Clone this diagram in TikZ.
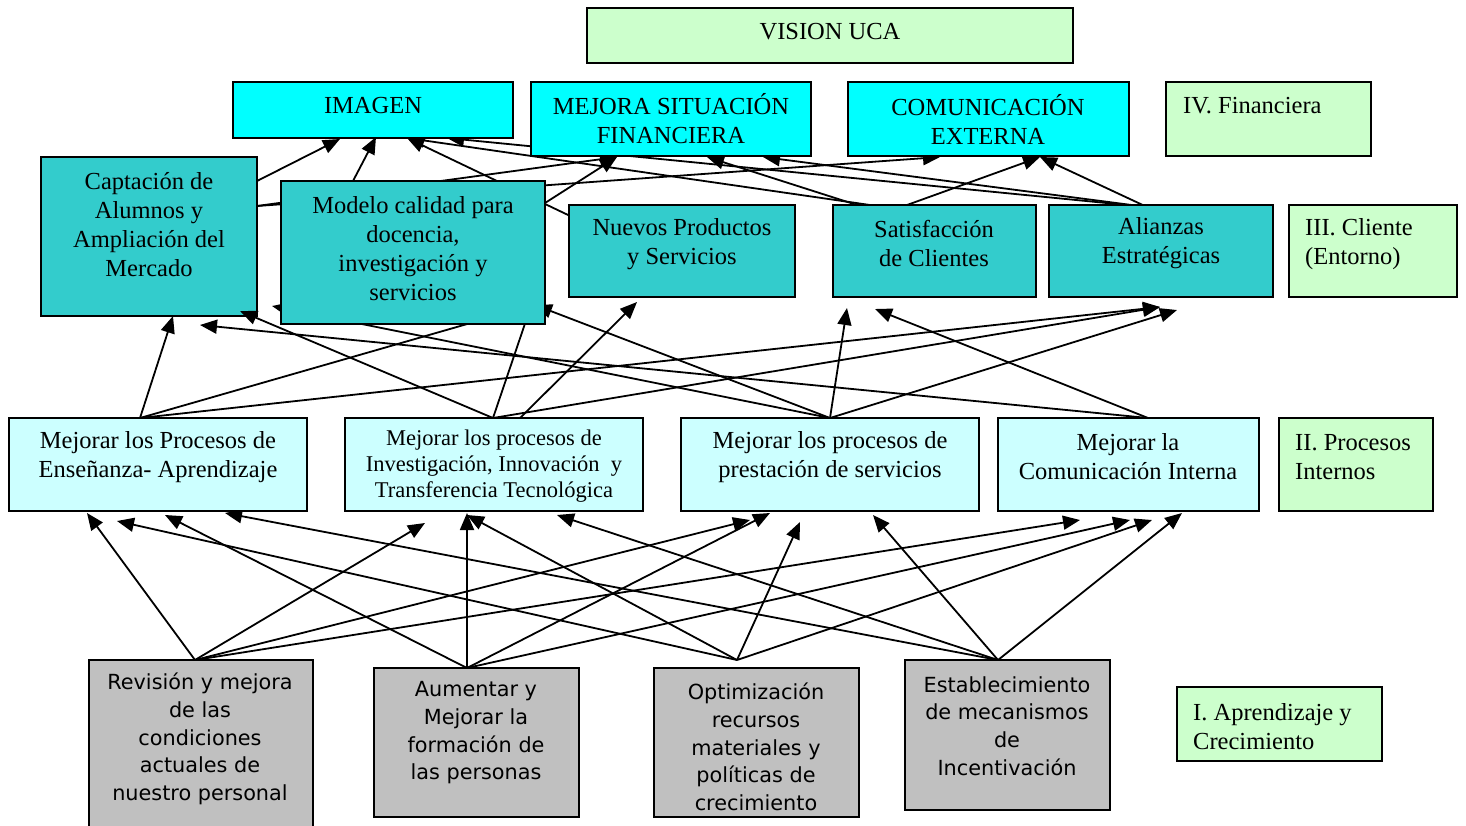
\documentclass[tikz,border=0pt]{standalone}
\usepackage{fontspec}
\setmainfont{Liberation Serif}
\newfontfamily\sansf{DejaVu Sans}
\usetikzlibrary{arrows.meta,calc}
\definecolor{cyanT}{HTML}{00FFFF}
\definecolor{tealB}{HTML}{33CCCC}
\definecolor{lcyan}{HTML}{CCFFFF}
\definecolor{lgreen}{HTML}{CCFFCC}
\definecolor{grayB}{HTML}{C0C0C0}
\tikzset{
  box/.style={draw=black, line width=1.8pt, inner sep=0pt, outer sep=0pt, anchor=north west},
  arr/.style={line width=1.8pt, -{Triangle[length=17pt,width=14pt]}},
  txt/.style={align=center, inner sep=0pt, font=\fontsize{24.5}{29}\selectfont},
  ltxt/.style={align=left, anchor=west, inner sep=0pt, font=\fontsize{24.5}{29}\selectfont},
  stxt/.style={align=center, inner sep=0pt, font=\sansf\fontsize{20.8}{27.7}\selectfont},
}
\begin{document}
\begin{tikzpicture}[x=1pt,y=-1pt]
\useasboundingbox (0,0) rectangle (1466,825);
% ---------- box frames (placed here, drawn later) ----------
\path
  (587,8)   node[box, draw=none, minimum width=486pt, minimum height=55pt] (vis) {}
  (233,82)  node[box, draw=none, minimum width=280pt, minimum height=56pt] (img) {}
  (531,82)  node[box, draw=none, minimum width=280pt, minimum height=74pt] (fin) {}
  (848,82)  node[box, draw=none, minimum width=281pt, minimum height=74pt] (com) {}
  (1166,82) node[box, draw=none, minimum width=205pt, minimum height=74pt] (lfin) {}
  (41,157)  node[box, draw=none, minimum width=216pt, minimum height=159pt] (cap) {}
  (281,181) node[box, draw=none, minimum width=264pt, minimum height=143pt] (mod) {}
  (569,205) node[box, draw=none, minimum width=226pt, minimum height=92pt] (nue) {}
  (833,205) node[box, draw=none, minimum width=203pt, minimum height=92pt] (sat) {}
  (1049,205) node[box, draw=none, minimum width=224pt, minimum height=92pt] (ali) {}
  (1289,205) node[box, draw=none, minimum width=168pt, minimum height=92pt] (lcli) {}
  (9,418)   node[box, draw=none, minimum width=298pt, minimum height=93pt] (ens) {}
  (345,418) node[box, draw=none, minimum width=298pt, minimum height=93pt] (inv) {}
  (681,418) node[box, draw=none, minimum width=298pt, minimum height=93pt] (pre) {}
  (998,418) node[box, draw=none, minimum width=261pt, minimum height=93pt] (cin) {}
  (1279,418) node[box, draw=none, minimum width=154pt, minimum height=93pt] (lpro) {}
  (89,660)  node[box, draw=none, minimum width=224pt, minimum height=175pt] (rev) {}
  (374,668) node[box, draw=none, minimum width=205pt, minimum height=149pt] (aum) {}
  (654,668) node[box, draw=none, minimum width=205pt, minimum height=149pt] (opt) {}
  (905,660) node[box, draw=none, minimum width=205pt, minimum height=150pt] (est) {}
  (1177,687) node[box, draw=none, minimum width=205pt, minimum height=74pt] (lapr) {};
\coordinate (optTop) at ($(opt.north west)+(83,-8)$);
% ---------- connectors row 2 -> row 1 ----------
\draw[arr] ($(cap.north west)+(216,24)$) -- ($(img.north west)+(107,57)$);
\draw[arr] ($(cap.north west)+(216,49)$) -- ($(fin.north west)+(86,75)$);
\draw[arr] ($(cap.north west)+(216,49)$) -- ($(com.north west)+(92,75)$);
\draw[arr] ($(mod.north west)+(72,0)$) -- ($(img.north west)+(143,55)$);
\draw[arr] ($(mod.north west)+(264,22)$) -- ($(fin.north west)+(86,75)$);
\draw[arr] ($(nue.north west)+(20,20)$) -- ($(img.north west)+(174,56)$);
\draw[arr] ($(sat.north west)+(24,0)$) -- ($(fin.north west)+(176,75)$);
\draw[arr] ($(sat.north west)+(74,0)$) -- ($(com.north west)+(192,75)$);
\draw[arr] ($(sat.north west)+(37,0)$) -- ($(img.north west)+(174,56)$);
\draw[arr] ($(ali.north west)+(98,2)$) -- ($(img.north west)+(214,56)$);
\draw[arr] ($(ali.north west)+(98,2)$) -- ($(fin.north west)+(232,75)$);
\draw[arr] ($(ali.north west)+(98,2)$) -- ($(com.north west)+(192,75)$);
% ---------- connectors row 3 -> row 2 ----------
\draw[arr] ($(ens.north west)+(131,0)$) -- ($(cap.north west)+(132,159)$);
\draw[arr] ($(ens.north west)+(131,0)$) -- ($(mod.north west)+(235,129)$);
\draw[arr] ($(ens.north west)+(131,0)$) -- ($(ali.north west)+(111,102)$);
\draw[arr] ($(inv.north west)+(148,0)$) -- ($(mod.north west)+(252,119)$);
\draw[arr] ($(inv.north west)+(175,0)$) -- ($(nue.north west)+(68,97)$);
\draw[arr] ($(inv.north west)+(148,0)$) -- ($(ali.north west)+(111,102)$);
\draw[arr] ($(pre.north west)+(149,0)$) -- ($(mod.north west)+(-9,125)$);
\draw[arr] ($(pre.north west)+(149,0)$) -- ($(mod.north west)+(254,124)$);
\draw[arr] ($(pre.north west)+(149,0)$) -- ($(sat.north west)+(14,103)$);
\draw[arr] ($(pre.north west)+(149,0)$) -- ($(ali.north west)+(128,105)$);
\draw[arr] ($(cin.north west)+(150,0)$) -- ($(cap.north west)+(159,168)$);
\draw[arr] ($(cin.north west)+(150,0)$) -- ($(sat.north west)+(42,104)$);
% ---------- connectors row 4 -> row 3 ----------
\draw[arr] ($(rev.north west)+(106,0)$) -- ($(ens.north west)+(78,95)$);
\draw[arr] ($(rev.north west)+(106,0)$) -- ($(inv.north west)+(80,105)$);
\draw[arr] ($(rev.north west)+(106,0)$) -- ($(pre.north west)+(69,102)$);
\draw[arr] ($(rev.north west)+(106,0)$) -- ($(cin.north west)+(82,102)$);
\draw[arr] ($(aum.north west)+(93,0)$) -- ($(ens.north west)+(156,97)$);
\draw[arr] ($(aum.north west)+(93,0)$) -- ($(inv.north west)+(122,95)$);
\draw[arr] ($(aum.north west)+(93,0)$) -- ($(pre.north west)+(89,95)$);
\draw[arr] ($(aum.north west)+(93,0)$) -- ($(cin.north west)+(132,102)$);
\draw[arr] (optTop) -- ($(ens.north west)+(108,103)$);
\draw[arr] (optTop) -- ($(inv.north west)+(122,97)$);
\draw[arr] (optTop) -- ($(pre.north west)+(119,104)$);
\draw[arr] (optTop) -- ($(cin.north west)+(154,102)$);
\draw[arr] ($(est.north west)+(93,0)$) -- ($(ens.north west)+(216,95)$);
\draw[arr] ($(est.north west)+(93,0)$) -- ($(inv.north west)+(212,97)$);
\draw[arr] ($(est.north west)+(93,0)$) -- ($(pre.north west)+(192,97)$);
\draw[arr] ($(est.north west)+(93,0)$) -- ($(cin.north west)+(184,95)$);
% ---------- boxes ----------
\foreach \n/\c in {vis/lgreen,img/cyanT,fin/cyanT,com/cyanT,lfin/lgreen,
  cap/tealB,mod/tealB,nue/tealB,sat/tealB,ali/tealB,lcli/lgreen,
  ens/lcyan,inv/lcyan,pre/lcyan,cin/lcyan,lpro/lgreen,
  rev/grayB,aum/grayB,opt/grayB,est/grayB,lapr/lgreen}
  \draw[line width=1.8pt, fill=\c] (\n.north west) rectangle (\n.south east);
% arrow drawn over a box
\draw[arr] ($(inv.north west)+(148,0)$) -- ($(cap.north west)+(199,154)$);
% ---------- texts ----------
\node[txt] (visT) at (830,32) {VISION UCA};
\node[txt] (imgT) at (373,106) {IMAGEN};
\node[txt] (finT) at (671,119) {MEJORA SITUACIÓN\\FINANCIERA};
\node[txt] (comT) at (988,119) {COMUNICACIÓN\\EXTERNA};
\node[ltxt] (lfinT) at (1183,106) {IV. Financiera};
\node[txt] (capT) at (149,225) {Captación de\\Alumnos y\\Ampliación del\\Mercado};
\node[txt] (modT) at (413,249) {Modelo calidad para\\docencia,\\investigación y\\servicios};
\node[txt] (nueT) at (682,244) {Nuevos Productos\\y Servicios};
\node[txt] (satT) at (934,243) {Satisfacción\\de Clientes};
\node[txt] (aliT) at (1161,243) {Alianzas\\Estratégicas};
\node[ltxt] (lcliT) at (1305,244) {III. Cliente\\(Entorno)};
\node[txt] (ensT) at (158,457) {Mejorar los Procesos de\\Enseñanza- Aprendizaje};
\node[txt, font=\fontsize{22.5}{26}\selectfont] (invT) at (494,466) {Mejorar los procesos de\\Investigación, Innovación~ y\\Transferencia Tecnológica};
\node[txt] (preT) at (830,457) {Mejorar los procesos de\\prestación de servicios};
\node[txt] (cinT) at (1128,457) {Mejorar la\\Comunicación Interna};
\node[ltxt] (lproT) at (1295,457) {II. Procesos\\Internos};
\node[stxt] (revT) at (200,739) {Revisión y mejora\\de las\\condiciones\\actuales de\\nuestro personal};
\node[stxt] (aumT) at (476,733) {Aumentar y\\Mejorar la\\formación de\\las personas};
\node[stxt] (optT) at (756,747) {Optimización\\recursos\\materiales y\\políticas de\\crecimiento};
\node[stxt] (estT) at (1007,726) {Establecimiento\\de mecanismos\\de\\Incentivación};
\node[ltxt] (laprT) at (1193,727) {I. Aprendizaje y\\Crecimiento};
\end{tikzpicture}
\end{document}
